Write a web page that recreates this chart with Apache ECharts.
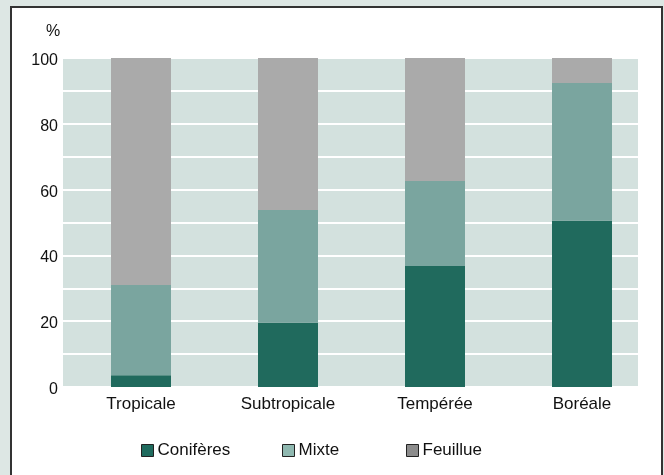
<!DOCTYPE html>
<html>
<head>
<meta charset="utf-8">
<script src="https://cdn.jsdelivr.net/npm/echarts@6/dist/echarts.min.js"></script>
<style>
  html, body { margin: 0; padding: 0; background: #dde7e4; }
  #chart { width: 664px; height: 475px; }
</style>
</head>
<body>
<div id="chart"></div>
<script>
var categories = ["Tropicale", "Subtropicale", "Tempérée", "Boréale"];
var coniferes = [3.6, 19.5, 36.8, 50.5];
var mixte = [27.4, 34.3, 25.8, 41.9];
var feuillue = [69, 46.2, 37.4, 7.6];
var yTicks = [0, 20, 40, 60, 80, 100];

var chart = echarts.init(document.getElementById("chart"));
var font = "'Liberation Sans', Arial, sans-serif";

// legende : une par serie pour caler les positions
function legendAt(name, left, color) {
    return {
        data: [{ name: name, icon: "rect", itemStyle: { color: color, borderColor: "#222", borderWidth: 1 } }],
        left: left, top: 437,
        itemWidth: 12, itemHeight: 12, itemGap: 8,
        selectedMode: false,
        textStyle: { fontFamily: font, fontSize: 17, color: "#111", padding: [0, 0, 0, -1] }
    };
}

var option = {
    backgroundColor: "#dde7e4",
    animation: false,
    graphic: [{
        type: "rect", z: -10,
        shape: { x: 11, y: 7, width: 651, height: 490 },
        style: { fill: "#ffffff", stroke: "#333333", lineWidth: 2 }
    }, {
        type: "text", left: 46, top: 24,
        style: { text: "%", fontFamily: font, fontSize: 16, fill: "#111" }
    }],
    legend: [
        legendAt("Conifères", 136, "#1f6b5e"),
        legendAt("Mixte", 277, "#8fb8b0"),
        legendAt("Feuillue", 401, "#8c8c8c")
    ],
    grid: [
        { left: 63, top: 58, width: 575, height: 329, show: true, backgroundColor: "#d3e1de", borderWidth: 0 },
        { left: 67.5, top: 58, width: 588, height: 329 }
    ],
    xAxis: [{
        gridIndex: 0, type: "category", data: categories, show: false
    }, {
        gridIndex: 1, type: "category", data: categories,
        axisLine: { show: false }, axisTick: { show: false },
        axisLabel: { fontFamily: font, fontSize: 17, color: "#111", margin: 9 }
    }],
    yAxis: [{
        gridIndex: 0, type: "value", min: 0, max: 100, interval: 10,
        axisLine: { show: false }, axisTick: { show: false },
        axisLabel: {
            margin: 5,
            formatter: function (v) { return yTicks.indexOf(v) >= 0 ? "{a|" + v + "}" : ""; },
            rich: { a: { fontFamily: font, fontSize: 16, color: "#111", padding: [5, 0, 0, 0] } }
        },
        splitLine: { show: true, lineStyle: { color: "#ffffff", width: 2 } }
    }, {
        gridIndex: 1, type: "value", min: 0, max: 100, show: false, splitLine: { show: false }
    }],
    series: [
        { name: "Conifères", type: "bar", stack: "t", xAxisIndex: 1, yAxisIndex: 1, barWidth: 60, data: coniferes, itemStyle: { color: "#206a5d" } },
        { name: "Mixte", type: "bar", stack: "t", xAxisIndex: 1, yAxisIndex: 1, barWidth: 60, data: mixte, itemStyle: { color: "#7aa59f" } },
        { name: "Feuillue", type: "bar", stack: "t", xAxisIndex: 1, yAxisIndex: 1, barWidth: 60, data: feuillue, itemStyle: { color: "#aaaaaa" } }
    ]
};
chart.setOption(option);
</script>
</body>
</html>
